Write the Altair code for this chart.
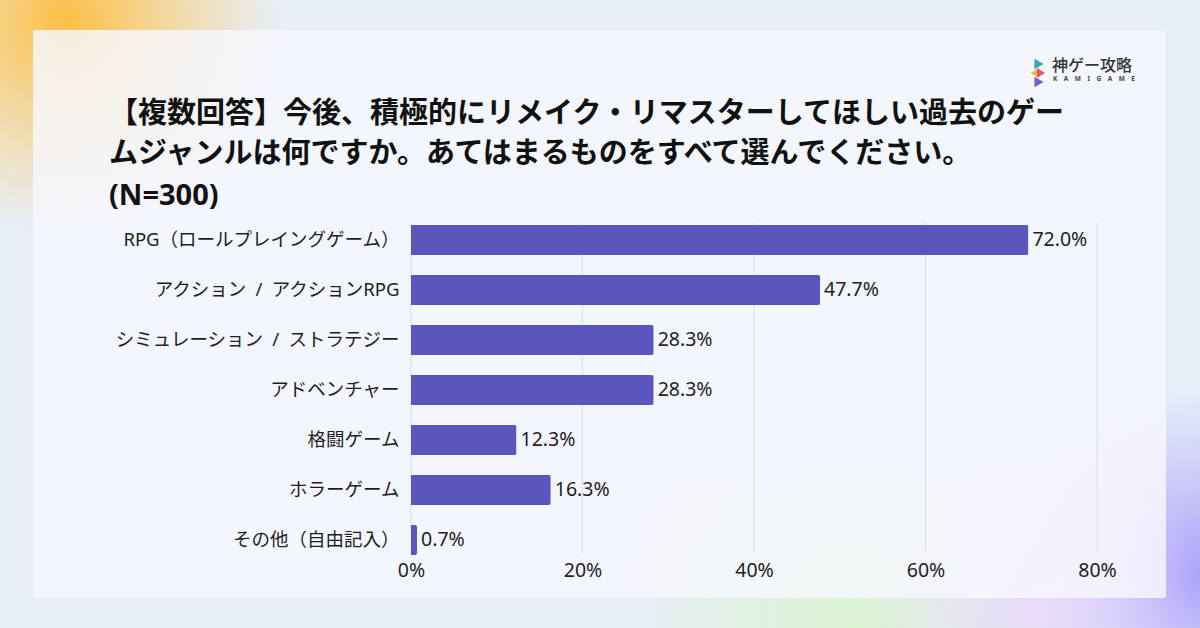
import altair as alt
import pandas as pd

genres = [
    "RPG（ロールプレイングゲーム）",
    "アクション\u2002/\u2002アクションRPG",
    "シミュレーション\u2002/\u2002ストラテジー",
    "アドベンチャー",
    "格闘ゲーム",
    "ホラーゲーム",
    "その他（自由記入）",
]
values = [72.0, 47.7, 28.3, 28.3, 12.3, 16.3, 0.7]
value_labels = ["72.0%", "47.7%", "28.3%", "28.3%", "12.3%", "16.3%", "0.7%"]
x_ticks = [0, 20, 40, 60, 80]
title_lines = [
    "【複数回答】今後、積極的にリメイク・リマスターしてほしい過去のゲー",
    "ムジャンルは何ですか。あてはまるものをすべて選んでください。",
    "(N=300)",
]
logo_text = "神ゲー攻略"
logo_sub = "\u2003".join("KAMIGAME")

FONT = "'Noto Sans', 'Noto Sans CJK JP'"
BAR = "#5b56bd"
TXT = "#1e1e24"

df = pd.DataFrame({"genre": genres, "value": values, "label": value_labels})
ticks_df = pd.DataFrame({"tick": x_ticks})
one = alt.Data(values=[{"k": 1}])


def blob(x, x2, y, y2, color_in, color_out):
    return alt.Chart(one).mark_rect(
        color=alt.Gradient(
            gradient="radial",
            stops=[alt.GradientStop(offset=0, color=color_in),
                   alt.GradientStop(offset=1, color=color_out)],
            x1=0.5, y1=0.5, r1=0, x2=0.5, y2=0.5, r2=0.5,
        )
    ).encode(x=alt.value(x), x2=alt.value(x2), y=alt.value(y), y2=alt.value(y2))


# plot origin is at (411, 225) absolute
blobs = [
    blob(-560, -130, -420, 10, "rgba(255,185,50,0.9)", "rgba(255,200,80,0)"),
    blob(600, 980, 170, 530, "rgba(165,155,250,0.95)", "rgba(180,170,250,0)"),
    blob(200, 700, 250, 560, "rgba(215,245,200,0.8)", "rgba(215,245,200,0)"),
    blob(450, 800, 230, 520, "rgba(235,215,255,0.8)", "rgba(235,215,255,0)"),
]

card = alt.Chart(one).mark_rect(
    color="#f6f8fe", opacity=0.82, cornerRadius=2
).encode(x=alt.value(-378), x2=alt.value(755), y=alt.value(-195), y2=alt.value(373))

title_marks = [
    alt.Chart(one).mark_text(
        text=t, align="left", baseline="middle", font=FONT, fontSize=29,
        fontWeight=700, color="#111111"
    ).encode(x=alt.value(-302), y=alt.value(yy))
    for t, yy in zip(title_lines, [-111, -71, -29])
]

logo_main = alt.Chart(one).mark_text(
    text=logo_text, align="left", baseline="middle", font="Noto Sans CJK JP", fontSize=16,
    fontWeight=500, color="#333333"
).encode(x=alt.value(641), y=alt.value(-159))
logo_small = alt.Chart(one).mark_text(
    text=logo_sub, align="left", baseline="middle", font="Noto Sans", fontSize=6.5,
    fontWeight=700, color="#444444"
).encode(x=alt.value(642), y=alt.value(-146))

icon = []
for shape, cx, cy, col, sz in [
    ("triangle-right", 628, -161, "#2fa7b5", 110),
    ("triangle-left", 624, -152, "#f3bd2e", 110),
    ("triangle-right", 630, -152, "#e0566a", 90),
    ("triangle-right", 628, -143, "#7a5ccc", 110),
]:
    icon.append(
        alt.Chart(one).mark_point(shape=shape, filled=True, size=sz, opacity=1, color=col)
        .encode(x=alt.value(cx), y=alt.value(cy))
    )

grid = alt.Chart(ticks_df).mark_rule(color="#dcdee8", strokeWidth=1).encode(
    x=alt.X("tick:Q", scale=alt.Scale(domain=[0, 80], nice=False)),
    y=alt.value(-3),
    y2=alt.value(328),
)

x_enc = alt.X(
    "value:Q",
    scale=alt.Scale(domain=[0, 80], nice=False),
    axis=alt.Axis(
        values=x_ticks, labelExpr="datum.value + '%'", title=None, grid=False,
        domain=False, ticks=False, zindex=1, labelFlush=False,
        labelFont=FONT, labelFontSize=19.5, labelColor=TXT, labelPadding=6,
    ),
)
y_enc = alt.Y(
    "genre:N",
    sort=genres,
    scale=alt.Scale(paddingInner=0.4, paddingOuter=0),
    axis=alt.Axis(
        title=None, domain=False, ticks=False, grid=False, labelFont=FONT, zindex=1,
        labelFontSize=18.5, labelColor=TXT, labelPadding=12, labelLimit=400,
    ),
)

bars = alt.Chart(df).mark_bar(color=BAR, cornerRadiusEnd=2).encode(x=x_enc, y=y_enc)
texts = alt.Chart(df).mark_text(
    align="left", baseline="middle", dx=4, font=FONT, fontSize=19.5, color=TXT
).encode(x="value:Q", y=alt.Y("genre:N", sort=genres), text="label:N")

chart = alt.layer(
    *blobs, card, *title_marks, logo_main, logo_small, *icon, grid, bars, texts
).properties(
    width=686,
    height=330,
    autosize=alt.AutoSizeParams(type="none"),
    padding={"left": 411, "top": 225, "right": 103, "bottom": 73},
    background="#e8eef8",
).configure_view(strokeWidth=0)

chart.save("out.html", embed_options={"renderer": "svg", "actions": False})
